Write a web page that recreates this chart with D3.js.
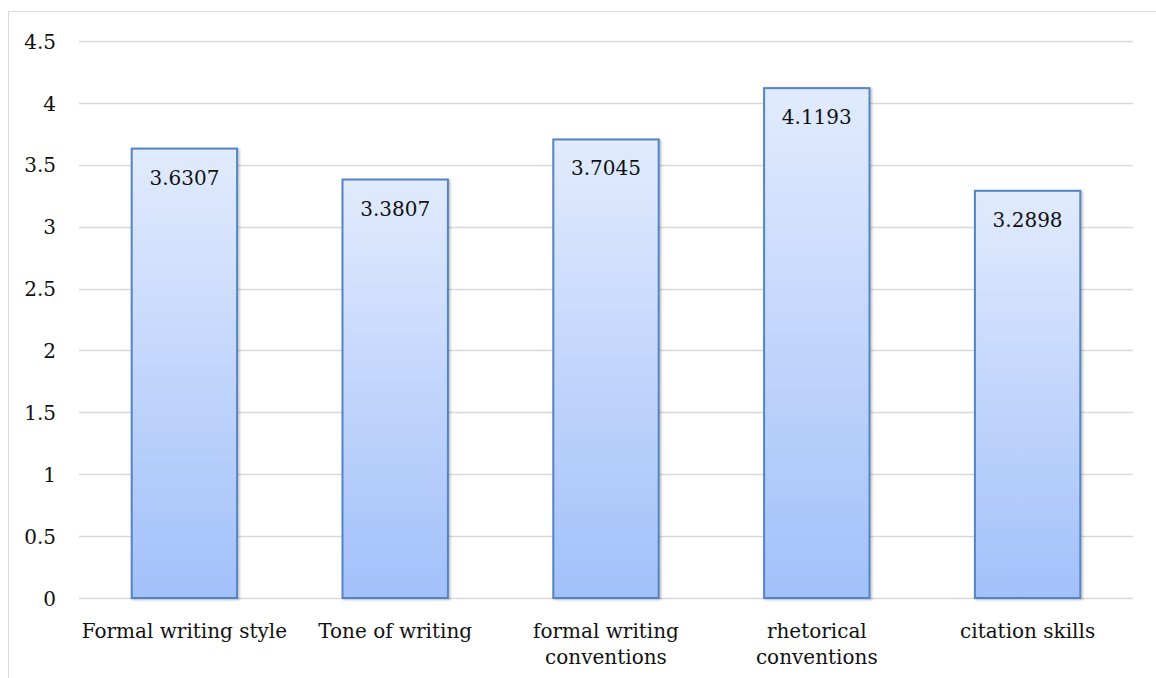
<!DOCTYPE html>
<html>
<head>
<meta charset="utf-8">
<script src="https://cdn.jsdelivr.net/npm/d3@7"></script>
<style>
  html, body { margin: 0; padding: 0; background: #fff; }
  svg { display: block; }
  text { font-family: "DejaVu Serif", "Liberation Serif", serif; fill: #111; }
</style>
</head>
<body>
<svg id="chart" width="1156" height="678"></svg>
<script>
// Mean scores per writing skill
const categories = [
  ["Formal writing style"],
  ["Tone of writing"],
  ["formal writing", "conventions"],
  ["rhetorical", "conventions"],
  ["citation skills"]
];
const values = [3.6307, 3.3807, 3.7045, 4.1193, 3.2898];
const valueLabels = ["3.6307", "3.3807", "3.7045", "4.1193", "3.2898"];
const yTicks = [0, 0.5, 1, 1.5, 2, 2.5, 3, 3.5, 4, 4.5];
const yTickLabels = ["0", "0.5", "1", "1.5", "2", "2.5", "3", "3.5", "4", "4.5"];

const W = 1156, H = 678;
const plot = { left: 79, right: 1133, top: 41, bottom: 598 };
const FONT = "DejaVu Serif, Liberation Serif, serif";

const svg = d3.select("#chart");

// chart frame
svg.append("rect")
  .attr("x", 8.5).attr("y", 11.5)
  .attr("width", W + 10).attr("height", H + 10)
  .attr("fill", "#fff").attr("stroke", "#d9d9d9").attr("stroke-width", 1);

const x = d3.scaleBand()
  .domain(d3.range(values.length))
  .range([plot.left, plot.right])
  .paddingInner(0.5).paddingOuter(0.25);

const y = d3.scaleLinear().domain([0, 4.5]).range([plot.bottom, plot.top]);

// bar fill gradient
const defs = svg.append("defs");
const grad = defs.append("linearGradient")
  .attr("id", "barFill").attr("x1", 0).attr("y1", 0).attr("x2", 0).attr("y2", 1);
grad.append("stop").attr("offset", "0%").attr("stop-color", "#e1ebfd");
grad.append("stop").attr("offset", "100%").attr("stop-color", "#a2c0fa");

const shadow = defs.append("filter").attr("id", "barShadow")
  .attr("x", "-10%").attr("y", "-10%").attr("width", "130%").attr("height", "130%");
shadow.append("feDropShadow").attr("dx", 1.5).attr("dy", 1).attr("stdDeviation", 1.2)
  .attr("flood-color", "#000").attr("flood-opacity", 0.25);

// gridlines
svg.append("g")
  .selectAll("line")
  .data(yTicks)
  .join("line")
  .attr("x1", plot.left).attr("x2", plot.right)
  .attr("y1", d => Math.round(y(d)) + 0.5).attr("y2", d => Math.round(y(d)) + 0.5)
  .attr("stroke", "#d9d9d9").attr("stroke-width", 1.5);

// y axis labels
const yAxis = d3.axisLeft(y).tickValues(yTicks)
  .tickFormat((d, i) => yTickLabels[i]).tickSize(0).tickPadding(0);
const gy = svg.append("g").attr("transform", `translate(${56},0)`).call(yAxis);
gy.select(".domain").remove();
gy.selectAll("text")
  .attr("font-family", FONT)
  .attr("font-size", 20).attr("fill", "#111").attr("dy", "0.36em");

// bars
svg.append("g")
  .selectAll("rect")
  .data(values)
  .join("rect")
  .attr("x", (d, i) => x(i))
  .attr("y", d => y(d))
  .attr("width", x.bandwidth())
  .attr("height", d => y(0) - y(d))
  .attr("fill", "url(#barFill)")
  .attr("stroke", "#5484c4").attr("stroke-width", 2)
  .attr("filter", "url(#barShadow)");

// value labels
svg.append("g")
  .selectAll("text")
  .data(values)
  .join("text")
  .attr("x", (d, i) => x(i) + x.bandwidth() / 2)
  .attr("y", d => y(d) + 36)
  .attr("text-anchor", "middle")
  .attr("font-size", 20)
  .text((d, i) => valueLabels[i]);

// category labels
const cat = svg.append("g")
  .selectAll("text")
  .data(categories)
  .join("text")
  .attr("x", (d, i) => x(i) + x.bandwidth() / 2)
  .attr("y", 638)
  .attr("text-anchor", "middle")
  .attr("font-size", 20);
cat.selectAll("tspan")
  .data(d => d)
  .join("tspan")
  .attr("x", function () { return d3.select(this.parentNode).attr("x"); })
  .attr("dy", (d, i) => i === 0 ? 0 : 26)
  .text(d => d);
</script>
</body>
</html>
